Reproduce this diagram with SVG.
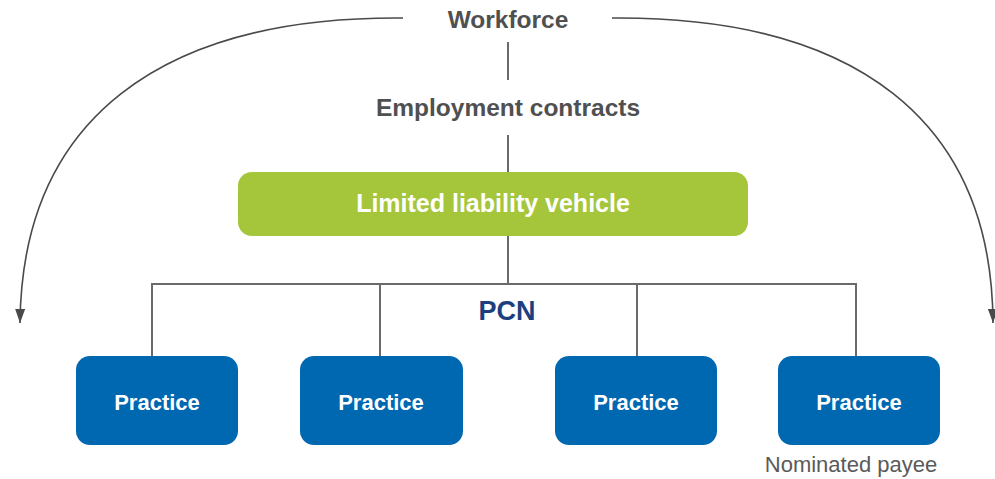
<svg xmlns="http://www.w3.org/2000/svg" width="995" height="479" viewBox="0 0 995 479">
<defs>
<marker id="arr" viewBox="0 0 14 10" refX="14" refY="5" markerWidth="14" markerHeight="10" markerUnits="userSpaceOnUse" orient="auto">
<path d="M0,0 L14,5 L0,10 Z" fill="#4a4a4a"/>
</marker>
<style>
.lbl{font-family:"Liberation Sans",Arial,sans-serif;font-weight:bold;font-size:24.5px;fill:#505050;text-anchor:middle}
.conn{stroke:#6a6a6a;stroke-width:2;fill:none}
.arc{stroke:#4a4a4a;stroke-width:1.6;fill:none}
.prac rect{fill:#0067b1}
.prac text{font-family:"Liberation Sans",Arial,sans-serif;font-weight:bold;font-size:22px;fill:#fff;text-anchor:middle}
</style>
</defs>
<rect width="995" height="479" fill="#fff"/>
<g id="connectors">
<path class="arc" d="M403,18 C160,16 22,120 20,323" marker-end="url(#arr)"/>
<path class="arc" d="M612,18 C855,16 992,120 993,323" marker-end="url(#arr)"/>
<line class="conn" x1="508" y1="42" x2="508" y2="80"/>
<line class="conn" x1="508" y1="135" x2="508" y2="173"/>
<line class="conn" x1="508" y1="236" x2="508" y2="284"/>
<polyline class="conn" points="152,357 152,284 856,284 856,357"/>
<line class="conn" x1="380" y1="284" x2="380" y2="357"/>
<line class="conn" x1="637" y1="284" x2="637" y2="357"/>
</g>
<g id="workforce"><text class="lbl" x="508" y="28">Workforce</text></g>
<g id="employment"><text class="lbl" x="508" y="116">Employment contracts</text></g>
<g id="llv">
<rect x="238" y="172" width="510" height="64" rx="14" fill="#a5c63b"/>
<text x="493" y="212" font-family="Liberation Sans, Arial, sans-serif" font-weight="bold" font-size="25" fill="#fff" text-anchor="middle">Limited liability vehicle</text>
</g>
<g id="pcn"><text x="507" y="320" font-family="Liberation Sans, Arial, sans-serif" font-weight="bold" font-size="27" fill="#1c3f80" text-anchor="middle">PCN</text></g>
<g id="practice1" class="prac"><rect x="76" y="356" width="162" height="89" rx="14"/><text x="157" y="410">Practice</text></g>
<g id="practice2" class="prac"><rect x="300" y="356" width="163" height="89" rx="14"/><text x="381" y="410">Practice</text></g>
<g id="practice3" class="prac"><rect x="555" y="356" width="162" height="89" rx="14"/><text x="636" y="410">Practice</text></g>
<g id="practice4" class="prac"><rect x="778" y="356" width="162" height="89" rx="14"/><text x="859" y="410">Practice</text></g>
<g id="nominated"><text x="851" y="472" font-family="Liberation Sans, Arial, sans-serif" font-size="22" fill="#5a5a5a" text-anchor="middle">Nominated payee</text></g>
</svg>
